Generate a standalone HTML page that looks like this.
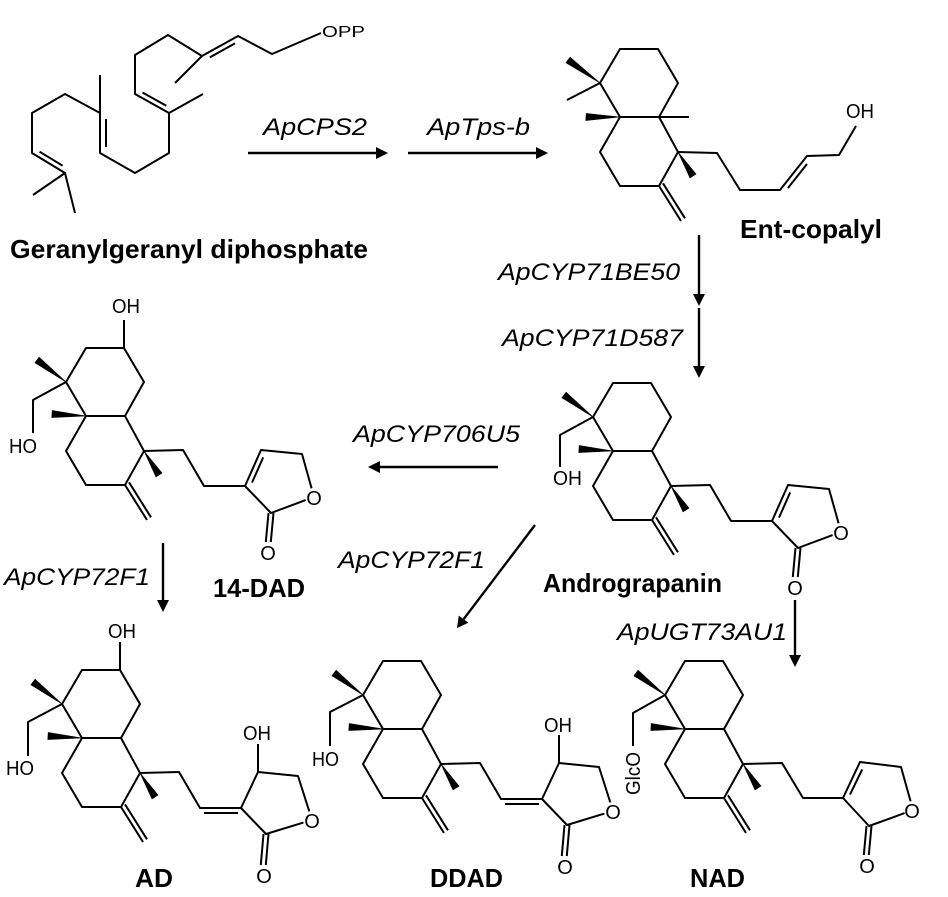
<!DOCTYPE html>
<html>
<head>
<meta charset="utf-8">
<style>
  html,body{margin:0;padding:0;background:#fff;}
  svg{display:block;}
  .b{fill:none;stroke:#000;stroke-width:2;stroke-linejoin:round;stroke-linecap:butt;}
  .w{fill:#000;stroke:#000;stroke-width:0.6;}
  .a{fill:none;stroke:#000;stroke-width:2.4;}
  .ah{fill:#000;stroke:none;}
  .at{font-family:"Liberation Sans",Arial,sans-serif;font-size:20px;fill:#000;}
  .en{font-family:"Liberation Sans",Arial,sans-serif;font-size:24px;font-style:italic;fill:#000;}
  .cn{font-family:"Liberation Sans",Arial,sans-serif;font-size:26px;font-weight:bold;fill:#000;}
</style>
</head>
<body>
<svg width="948" height="897" viewBox="0 0 948 897" xmlns="http://www.w3.org/2000/svg">

<!-- ===== GGPP ===== -->
<g>
  <path class="b" d="M321,33 L272,54 L238,36 L202,56 L168,35 L135,55 L135,94 L169,113 L169,153 L135,173 L100,153 L100,113 L65,94 L32,113 L32,153 L65,173 L33,195 M65,173 L75,213 M202,56 L175,83 M169,113 L203,94 M100,113 L100,75 M235,43.4 L209.8,57.4 M142.5,92.5 L166.3,105.8 M106,119 L106,147 M39.6,151.7 L62.6,165.7"/>
  <text class="at" x="322" y="37" style="font-size:16px" textLength="43" lengthAdjust="spacingAndGlyphs">OPP</text>
  <text class="cn" x="10" y="258" textLength="358" lengthAdjust="spacingAndGlyphs">Geranylgeranyl diphosphate</text>
</g>

<!-- ===== Arrows ===== -->
<path class="a" d="M248,153 L378,153 M408,153 L538,153 M699,235 L699,296 M699,308 L699,368 M498,467 L378,467 M535,525 L463.6,619.2 M163,543 L163,602 M795,600 L795,657"/>
<polygon class="ah" points="388,153 376,147 376,159"/>
<polygon class="ah" points="548,153 536,147 536,159"/>
<polygon class="ah" points="699,306 693,294 705,294"/>
<polygon class="ah" points="699,378 693,366 705,366"/>
<polygon class="ah" points="368,467 380,461 380,473"/>
<polygon class="ah" points="457,628 468.4,622.8 458.8,615.6"/>
<polygon class="ah" points="163,612 157,600 169,600"/>
<polygon class="ah" points="795,667 789,655 801,655"/>

<!-- ===== Enzyme labels ===== -->
<text class="en" x="263" y="135" textLength="104" lengthAdjust="spacingAndGlyphs">ApCPS2</text>
<text class="en" x="427" y="135" textLength="103" lengthAdjust="spacingAndGlyphs">ApTps-b</text>
<text class="en" x="498" y="280" textLength="182" lengthAdjust="spacingAndGlyphs">ApCYP71BE50</text>
<text class="en" x="502" y="346" textLength="181" lengthAdjust="spacingAndGlyphs">ApCYP71D587</text>
<text class="en" x="353" y="442" textLength="167" lengthAdjust="spacingAndGlyphs">ApCYP706U5</text>
<text class="en" x="338" y="568" textLength="147" lengthAdjust="spacingAndGlyphs">ApCYP72F1</text>
<text class="en" x="4" y="585" textLength="146" lengthAdjust="spacingAndGlyphs">ApCYP72F1</text>
<text class="en" x="617" y="640" textLength="170" lengthAdjust="spacingAndGlyphs">ApUGT73AU1</text>

<!-- ===== Ent-copalyl ===== -->
<g transform="translate(620,49)">
  <path class="b" d="M0,0 L38,0 L58,34 L39,68 L0,68 L-20,34 Z M0,68 L-20,103 L0,137 L39,137 L58,103 L39,68 M39,137 L61,172 M43,134.3 L65,169.3"/>
  <polygon class="w" points="-20,34 -49.9,8.2 -54.1,13.8"/>
  <polygon class="w" points="0,68 -33.8,64.5 -34.2,71.5"/>
  <polygon class="w" points="58,103 76,125.1 70,128.9"/>
  <path class="b" d="M-20,34 L-53,51 M39,68 L69,68 M58,103 L97,104 L120,141 L160,141 L187,107 L219,106 L236,77 M168,139 L187,115"/>
  <text class="at" x="226" y="69" textLength="28" lengthAdjust="spacingAndGlyphs">OH</text>
</g>
<text class="cn" x="740" y="238" textLength="142" lengthAdjust="spacingAndGlyphs">Ent-copalyl</text>

<!-- ===== 14-DAD ===== -->
<g transform="translate(86,348)">
  <path class="b" d="M0,0 L38,0 L58,34 L39,68 L0,68 L-20,34 Z M0,68 L-20,103 L0,137 L39,137 L58,103 L39,68 M39,137 L61,172 M43,134.3 L65,169.3"/>
  <polygon class="w" points="-20,34 -46.9,9.2 -51.1,14.8"/>
  <polygon class="w" points="0,68 -33.8,62.5 -34.2,69.5"/>
  <polygon class="w" points="58,103 76,125.1 70,128.9"/>
  <path class="b" d="M58,103 L97,102 L118,138 L159,138 L175,102 L216,106 L225.6,140.3 M219.6,152.1 L185,165 L159,138 M166,134.6 L177.2,109.4 M187.5,165 L184.8,194 M182.5,165 L179.8,194"/>
  <text class="at" x="228" y="157" text-anchor="middle">O</text>
  <text class="at" x="182" y="212" text-anchor="middle">O</text>
  <path class="b" d="M38,0 L38,-28 M-20,34 L-53,52 L-53,85"/>
  <text class="at" x="40" y="-35" text-anchor="middle" textLength="28" lengthAdjust="spacingAndGlyphs">OH</text>
  <text class="at" x="-77" y="105" textLength="28" lengthAdjust="spacingAndGlyphs">HO</text>
</g>
<text class="cn" x="213" y="597" textLength="92" lengthAdjust="spacingAndGlyphs">14-DAD</text>

<!-- ===== Andrograpanin ===== -->
<g transform="translate(613,383)">
  <path class="b" d="M0,0 L38,0 L58,34 L39,68 L0,68 L-20,34 Z M0,68 L-20,103 L0,137 L39,137 L58,103 L39,68 M39,137 L61,172 M43,134.3 L65,169.3"/>
  <polygon class="w" points="-20,34 -46.9,9.2 -51.1,14.8"/>
  <polygon class="w" points="0,68 -33.8,62.5 -34.2,69.5"/>
  <polygon class="w" points="58,103 76,125.1 70,128.9"/>
  <path class="b" d="M58,103 L97,102 L118,138 L159,138 L175,102 L216,106 L225.6,140.3 M219.6,152.1 L185,165 L159,138 M166,134.6 L177.2,109.4 M187.5,165 L184.8,194 M182.5,165 L179.8,194"/>
  <text class="at" x="228" y="157" text-anchor="middle">O</text>
  <text class="at" x="182" y="212" text-anchor="middle">O</text>
  <path class="b" d="M-20,34 L-53,52 L-53,84"/>
  <text class="at" x="-60" y="102" textLength="29" lengthAdjust="spacingAndGlyphs">OH</text>
</g>
<text class="cn" x="543" y="592" textLength="179" lengthAdjust="spacingAndGlyphs">Andrograpanin</text>

<!-- ===== AD ===== -->
<g transform="translate(82,670)">
  <path class="b" d="M0,0 L38,0 L58,34 L39,68 L0,68 L-20,34 Z M0,68 L-20,103 L0,137 L39,137 L58,103 L39,68 M39,137 L61,172 M43,134.3 L65,169.3"/>
  <polygon class="w" points="-20,34 -46.9,9.2 -51.1,14.8"/>
  <polygon class="w" points="0,68 -33.8,62.5 -34.2,69.5"/>
  <polygon class="w" points="58,103 76,125.1 70,128.9"/>
  <path class="b" d="M58,103 L97,102 L118,138 L159,138 L176,102 L216,106 L227.3,141.4 M221.4,152.6 L184,164 L159,138 M122,143 L156,143 M176,102 L176,74 M186.5,164 L183.8,195 M181.5,164 L178.8,195"/>
  <text class="at" x="230" y="158" text-anchor="middle">O</text>
  <text class="at" x="182" y="213" text-anchor="middle">O</text>
  <text class="at" x="175" y="70" text-anchor="middle" textLength="28" lengthAdjust="spacingAndGlyphs">OH</text>
  <path class="b" d="M38,0 L38,-28 M-20,34 L-54,52 L-54,86"/>
  <text class="at" x="40" y="-32" text-anchor="middle" textLength="28" lengthAdjust="spacingAndGlyphs">OH</text>
  <text class="at" x="-76" y="105" textLength="28" lengthAdjust="spacingAndGlyphs">HO</text>
</g>
<text class="cn" x="135" y="887" textLength="38" lengthAdjust="spacingAndGlyphs">AD</text>

<!-- ===== DDAD ===== -->
<g transform="translate(383,661)">
  <path class="b" d="M0,0 L38,0 L58,34 L39,68 L0,68 L-20,34 Z M0,68 L-20,103 L0,137 L39,137 L58,103 L39,68 M39,137 L61,172 M43,134.3 L65,169.3"/>
  <polygon class="w" points="-20,34 -46.9,9.2 -51.1,14.8"/>
  <polygon class="w" points="0,68 -33.8,62.5 -34.2,69.5"/>
  <polygon class="w" points="58,103 76,125.1 70,128.9"/>
  <path class="b" d="M58,103 L97,102 L118,138 L159,138 L176,102 L216,106 L227.3,141.4 M221.4,152.6 L184,164 L159,138 M122,143 L156,143 M176,102 L176,74 M186.5,164 L183.8,195 M181.5,164 L178.8,195"/>
  <text class="at" x="230" y="158" text-anchor="middle">O</text>
  <text class="at" x="182" y="213" text-anchor="middle">O</text>
  <text class="at" x="175" y="71" text-anchor="middle" textLength="28" lengthAdjust="spacingAndGlyphs">OH</text>
  <path class="b" d="M-20,34 L-53,51 L-53,85"/>
  <text class="at" x="-71" y="105" textLength="27" lengthAdjust="spacingAndGlyphs">HO</text>
</g>
<text class="cn" x="430" y="887" textLength="73" lengthAdjust="spacingAndGlyphs">DDAD</text>

<!-- ===== NAD ===== -->
<g transform="translate(685,661)">
  <path class="b" d="M0,0 L38,0 L58,34 L39,68 L0,68 L-20,34 Z M0,68 L-20,103 L0,137 L39,137 L58,103 L39,68 M39,137 L61,172 M43,134.3 L65,169.3"/>
  <polygon class="w" points="-20,34 -46.9,9.2 -51.1,14.8"/>
  <polygon class="w" points="0,68 -33.8,62.5 -34.2,69.5"/>
  <polygon class="w" points="58,103 76,125.1 70,128.9"/>
  <path class="b" d="M58,103 L97,102 L118,137 L158,137 L175,101 L216,106 L225.6,140.3 M219.6,152.1 L184,165 L158,137 M165,133.6 L177.2,108.4 M186.5,165 L183.8,194 M181.5,165 L178.8,194"/>
  <text class="at" x="227" y="157" text-anchor="middle">O</text>
  <text class="at" x="182" y="212" text-anchor="middle">O</text>
  <path class="b" d="M-20,34 L-52,52 L-52,85"/>
  <text class="at" transform="translate(-45,112.5) rotate(-90)" x="0" y="0" text-anchor="middle" textLength="43" lengthAdjust="spacingAndGlyphs">GlcO</text>
</g>
<text class="cn" x="690" y="887" textLength="55" lengthAdjust="spacingAndGlyphs">NAD</text>

</svg>
</body>
</html>
